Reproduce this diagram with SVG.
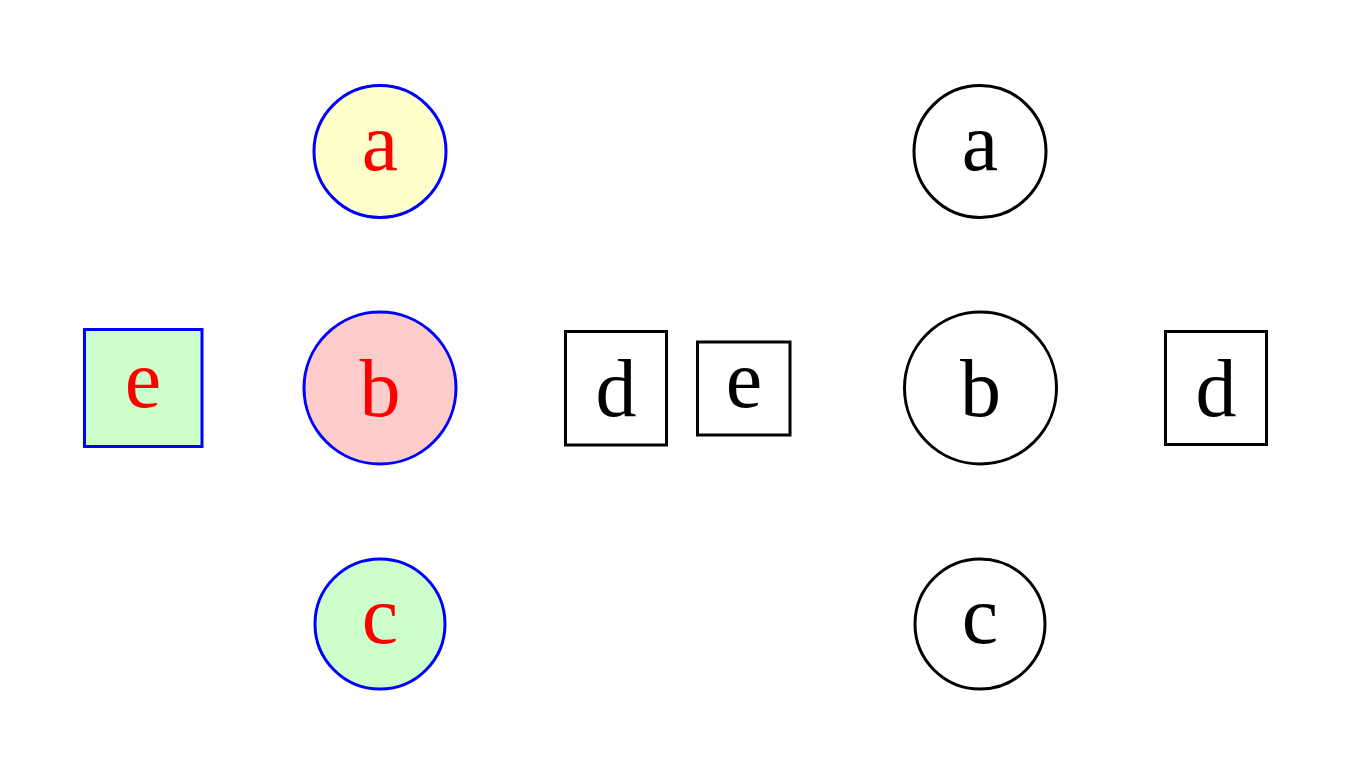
<svg xmlns="http://www.w3.org/2000/svg" width="1352" height="775" viewBox="0 0 1352 775">
<style>
.blue{stroke:#0000ff;stroke-width:3}
.blk{stroke:#000;stroke-width:3;fill:#fff}
.t{font-family:"Liberation Serif","DejaVu Serif",serif;font-size:82px;text-anchor:middle}
.r{fill:#ff0000}
.k{fill:#000}
</style>
<rect width="1352" height="775" fill="#fff"/>
<g id="a1"><circle cx="380" cy="151.5" r="66" class="blue" fill="#ffffcc"/><text x="380" y="170" class="t r">a</text></g>
<g id="b1"><circle cx="380" cy="388" r="76" class="blue" fill="#ffcccc"/><text x="380" y="416" class="t r">b</text></g>
<g id="c1"><circle cx="380" cy="624" r="65" class="blue" fill="#ccffcc"/><text x="380" y="643" class="t r">c</text></g>
<g id="e1"><rect x="84.5" y="329.5" width="117.5" height="117" class="blue" fill="#ccffcc"/><text x="143" y="407" class="t r">e</text></g>
<g id="d1"><rect x="565.5" y="331.5" width="101" height="113.5" class="blk"/><text x="616" y="416" class="t k">d</text></g>
<g id="e2"><rect x="697.5" y="342" width="92.5" height="93" class="blk"/><text x="744" y="407" class="t k">e</text></g>
<g id="a2"><circle cx="980" cy="151.5" r="66" class="blk"/><text x="980" y="170" class="t k">a</text></g>
<g id="b2"><circle cx="980.5" cy="388" r="76" class="blk"/><text x="980.5" y="416" class="t k">b</text></g>
<g id="c2"><circle cx="980" cy="624" r="65" class="blk"/><text x="980" y="643" class="t k">c</text></g>
<g id="d2"><rect x="1165.5" y="331.5" width="101" height="113" class="blk"/><text x="1216" y="416" class="t k">d</text></g>
<g id="connectors"></g>
</svg>
